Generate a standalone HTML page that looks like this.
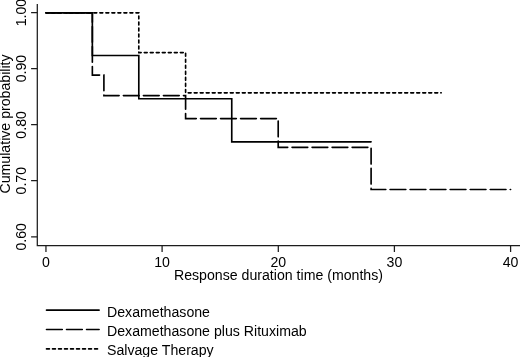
<!DOCTYPE html>
<html><head><meta charset="utf-8">
<style>
html,body{margin:0;padding:0;background:#fff;}
svg{display:block;}
text{font-family:"Liberation Sans", sans-serif;font-size:14.15px;fill:#000;}
.gs{filter:grayscale(1);}
</style></head>
<body>
<svg width="520" height="357" viewBox="0 0 520 357" xmlns="http://www.w3.org/2000/svg">
<rect width="520" height="357" fill="#fff"/>
<g stroke="#1c1c1c" stroke-width="1.25" fill="none">
  <path d="M37.3,3.9 V245.7 H520"/>
  <path d="M31.1,12.5 H37.3 M31.1,68.6 H37.3 M31.1,124.65 H37.3 M31.1,180.7 H37.3 M31.1,236.8 H37.3"/>
  <path d="M45.95,245.7 V251.9 M162.1,245.7 V251.9 M278.3,245.7 V251.9 M394.4,245.7 V251.9 M510.6,245.7 V251.9"/>
</g>
<g fill="none" stroke="#000" stroke-width="1.65" stroke-linejoin="miter" stroke-linecap="round">
  <path d="M45.95,12.8 H92.35 V55.5 H138.8 V98.7 H231.75 V141.85 H371.1"/>
  <path d="M45.95,12.8 H92.35 V75.05 H103.9 V95.6 H185.6 V118.6 H278.2 V147.3 H371.1 V189.45 H510.6" stroke-dasharray="15.75 4.28"/>
  <path d="M45.95,12.8 H138.8 V52.6 H185.6 V92.85 H441.2" stroke-dasharray="2.9 3.114" stroke-dashoffset="0.2"/>
</g>
<g text-anchor="middle" class="gs">
  <text transform="translate(25.7,12.6) rotate(-90)">1.00</text>
  <text transform="translate(25.7,68.6) rotate(-90)">0.90</text>
  <text transform="translate(25.7,124.9) rotate(-90)">0.80</text>
  <text transform="translate(25.7,180.7) rotate(-90)">0.70</text>
  <text transform="translate(25.7,236.8) rotate(-90)">0.60</text>
  <text transform="translate(9.7,123.95) rotate(-90)">Cumulative probability</text>
  <text x="46" y="266.6">0</text>
  <text x="162.1" y="266.6">10</text>
  <text x="278.25" y="266.6">20</text>
  <text x="394.4" y="266.6">30</text>
  <text x="510.5" y="266.6">40</text>
  <text x="278.5" y="280.1">Response duration time (months)</text>
</g>
<g fill="none" stroke="#000" stroke-width="1.65" stroke-linecap="round">
  <path d="M46.5,310.15 H99.1"/>
  <path d="M46.5,329.5 H99.1" stroke-dasharray="15.75 4.28"/>
  <path d="M46.5,348.9 H99.1" stroke-dasharray="2.9 3.114"/>
</g>
<g class="gs">
<text x="107" y="316.8">Dexamethasone</text>
<text x="107" y="336">Dexamethasone plus Rituximab</text>
<text x="107" y="354.7">Salvage Therapy</text>
</g>
</svg>
</body></html>
